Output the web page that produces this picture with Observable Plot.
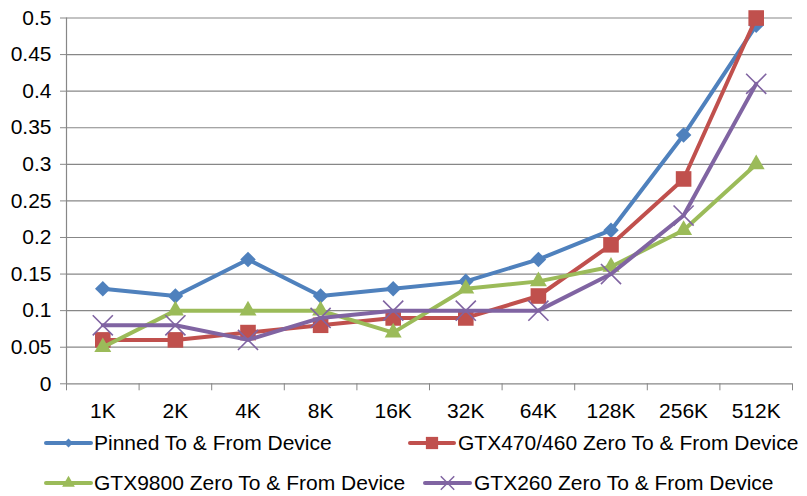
<!DOCTYPE html>
<html><head><meta charset="utf-8">
<script src="https://cdn.jsdelivr.net/npm/d3@7"></script>
<script src="https://cdn.jsdelivr.net/npm/@observablehq/plot@0.6"></script>
<style>
body{margin:0;background:#fff;}
#wrap{position:relative;width:807px;height:496px;font-family:"Liberation Sans",Arial,sans-serif;overflow:hidden;}
#wrap svg.plot{position:absolute;left:0;top:0;}
.lg{position:absolute;font-size:21px;line-height:24px;white-space:nowrap;color:#000;}
.ls{position:absolute;}
</style></head><body><div id="wrap"></div>
<script>
const categories = ["1K","2K","4K","8K","16K","32K","64K","128K","256K","512K"];
const pinned  = [0.13,0.12,0.17,0.12,0.13,0.14,0.17,0.21,0.34,0.49];
const gtx470  = [0.06,0.06,0.07,0.08,0.09,0.09,0.12,0.19,0.28,0.50];
const gtx9800 = [0.05,0.10,0.10,0.10,0.07,0.13,0.14,0.16,0.21,0.30];
const gtx260  = [0.08,0.08,0.06,0.09,0.10,0.10,0.10,0.15,0.23,0.41];
const seriesNames = ["Pinned To & From Device","GTX470/460 Zero To & From Device","GTX9800 Zero To & From Device","GTX260 Zero To & From Device"];
const yTicks = [0,0.05,0.1,0.15,0.2,0.25,0.3,0.35,0.4,0.45,0.5];

const seriesValues = [pinned, gtx470, gtx9800, gtx260];
const colors = ["#4F81BD","#C0504D","#9BBB59","#8064A2"];
const gridColor = "#878787";

const series = seriesNames.map((name, s) => ({
  name, color: colors[s],
  rows: categories.map((c, i) => ({cat: c, x: i + 0.5, y: seriesValues[s][i]}))
}));

const dotStyles = [
  {symbol: "square", rotate: 45, r: 6.2},
  {symbol: "square", r: 8.8},
  {symbol: "triangle", r: 6.3},
  {symbol: "times", r: 9.2}
];

const seriesMarks = series.flatMap((s, k) => {
  const st = dotStyles[k];
  const dot = k === 3
    ? Plot.dot(s.rows, {x: "x", y: "y", symbol: st.symbol, r: st.r, stroke: s.color, strokeWidth: 1.6, fill: "none"})
    : Plot.dot(s.rows, {x: "x", y: "y", symbol: st.symbol, r: st.r, rotate: st.rotate || 0, fill: s.color, stroke: "none"});
  return [
    Plot.line(s.rows, {x: "x", y: "y", stroke: s.color, strokeWidth: 4, strokeLinejoin: "round", strokeLinecap: "round"}),
    dot
  ];
});

const chart = Plot.plot({
  width: 807, height: 425,
  marginLeft: 66, marginRight: 15, marginTop: 17.5, marginBottom: 41.7,
  style: {fontFamily: '"Liberation Sans", Arial, sans-serif', fontSize: "21px", background: "transparent", color: "#000"},
  x: {type: "linear", domain: [0, categories.length], label: null},
  y: {domain: [0, 0.5], label: null},
  marks: [
    Plot.gridY(yTicks, {stroke: gridColor, strokeOpacity: 1, strokeWidth: 1.2}),
    Plot.ruleX([0], {stroke: gridColor, strokeWidth: 1.2}),
    Plot.axisY(yTicks, {tickSize: 6, tickPadding: 9, stroke: gridColor, fill: "#000", fontSize: 21, label: null,
      tickFormat: d => String(+d.toFixed(2))}),
    Plot.axisX(d3.range(categories.length + 1), {tickSize: 7, stroke: gridColor, label: null, tickFormat: () => ""}),
    Plot.axisX(categories.map((c, i) => i + 0.5), {tickSize: 0, tickPadding: 19, fill: "#000", fontSize: 21, label: null,
      tickFormat: d => categories[Math.floor(d)]}),
    ...seriesMarks
  ]
});
chart.classList.add("plot");
const wrap = document.getElementById("wrap");
wrap.appendChild(chart);

// Legend below the chart
const legendPos = [
  {x0: 46, x1: 91, cy: 443, tx: 94},
  {x0: 410, x1: 454, cy: 443, tx: 458},
  {x0: 46, x1: 91, cy: 483, tx: 94},
  {x0: 425, x1: 470, cy: 483, tx: 474}
];
const legendSym = [
  {type: d3.symbolSquare, size: 40, rotate: 45},
  {type: d3.symbolSquare, size: 150},
  {type: d3.symbolTriangle, size: 70},
  {type: d3.symbolTimes, size: 120}
];
series.forEach((s, k) => {
  const p = legendPos[k];
  const w = p.x1 - p.x0;
  const svg = d3.select(wrap).append("svg").attr("class", "ls")
    .attr("width", w + 4).attr("height", 24)
    .style("left", (p.x0 - 2) + "px").style("top", (p.cy - 12) + "px");
  svg.append("line").attr("x1", 2).attr("x2", w + 2).attr("y1", 12).attr("y2", 12)
    .attr("stroke", s.color).attr("stroke-width", 4).attr("stroke-linecap", "round");
  const sym = legendSym[k];
  const path = svg.append("path").attr("d", d3.symbol(sym.type, sym.size)())
    .attr("transform", `translate(${w / 2 + 2},12) rotate(${sym.rotate || 0})`);
  if (k === 3) path.attr("fill", "none").attr("stroke", s.color).attr("stroke-width", 1.5);
  else path.attr("fill", s.color);
  d3.select(wrap).append("div").attr("class", "lg")
    .style("left", p.tx + "px").style("top", (p.cy - 11.75) + "px").text(s.name);
});
</script></body></html>
